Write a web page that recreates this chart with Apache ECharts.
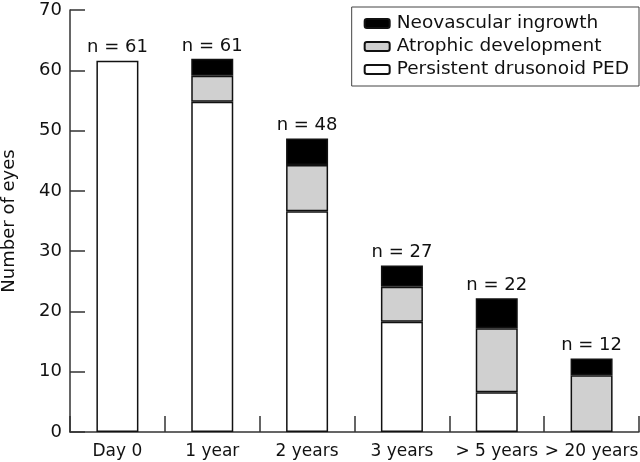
<!DOCTYPE html>
<html><head><meta charset="utf-8">
<script src="https://cdn.jsdelivr.net/npm/echarts@6/dist/echarts.min.js"></script>
<style>html,body{margin:0;padding:0;background:#fff}#c{width:640px;height:462px}</style>
</head><body><div id="c"></div>
<script>
var categories = ['Day 0', '1 year', '2 years', '3 years', '> 5 years', '> 20 years'];
var persistent = [61.6, 54.8, 36.6, 18.3, 6.6, 0];
var atrophic = [0, 4.3, 7.7, 5.8, 10.6, 9.4];
var neovascular = [0, 2.8, 4.4, 3.5, 5.0, 2.8];
var nLabels = ['n = 61', 'n = 61', 'n = 48', 'n = 27', 'n = 22', 'n = 12'];
var yTicks = [0, 10, 20, 30, 40, 50, 60, 70];

var FONT = 'DejaVu Sans';
function skipZero(arr) { return arr.map(function (v) { return v === 0 ? null : v; }); }
var totals = categories.map(function (c, i) { return persistent[i] + atrophic[i] + neovascular[i]; });

var chart = echarts.init(document.getElementById('c'), null, {renderer: 'canvas'});
var border = {borderColor: '#111', borderWidth: 1.5};
chart.setOption({
  animation: false,
  backgroundColor: '#fff',
  textStyle: {fontFamily: FONT, color: '#111'},
  grid: {left: 70, right: 1, top: 10, bottom: 30, containLabel: false, outerBoundsMode: 'none'},
  legend: {
    orient: 'vertical', right: 1, top: 7,
    itemWidth: 25, itemHeight: 9, itemGap: 4,
    padding: [7, 10, 7, 12],
    borderColor: '#444', borderWidth: 1,
    textStyle: {fontFamily: FONT, fontSize: 18.5, color: '#111', padding: [0, 0, 0, 2]},
    data: ['Neovascular ingrowth', 'Atrophic development', 'Persistent drusonoid PED']
  },
  xAxis: {
    type: 'category', data: categories,
    axisLine: {lineStyle: {color: '#333', width: 1.5}},
    axisTick: {show: true, inside: true, length: 16, alignWithLabel: false, lineStyle: {color: '#333', width: 1.5}},
    axisLabel: {interval: 0, fontSize: 17, color: '#111', margin: 11, fontFamily: FONT}
  },
  yAxis: {
    type: 'value', min: yTicks[0], max: yTicks[yTicks.length - 1], interval: 10,
    name: 'Number of eyes', nameLocation: 'middle', nameGap: 52,
    nameTextStyle: {fontSize: 18, color: '#111', fontFamily: FONT},
    splitLine: {show: false},
    axisLine: {show: true, lineStyle: {color: '#333', width: 1.5}},
    axisTick: {show: true, inside: true, length: 15, lineStyle: {color: '#333', width: 1.5}},
    axisLabel: {fontSize: 18, color: '#111', margin: 8, fontFamily: FONT}
  },
  series: [
    {name: 'Persistent drusonoid PED', type: 'bar', stack: 's', barWidth: 42,
     data: skipZero(persistent), itemStyle: Object.assign({color: '#fff'}, border)},
    {name: 'Atrophic development', type: 'bar', stack: 's',
     data: skipZero(atrophic), itemStyle: Object.assign({color: '#d0d0d0'}, border)},
    {name: 'Neovascular ingrowth', type: 'bar', stack: 's',
     data: skipZero(neovascular), itemStyle: Object.assign({color: '#000'}, border)},
    {name: 'n', type: 'scatter', data: totals, symbolSize: 0, silent: true,
     itemStyle: {opacity: 1},
     label: {show: true, position: 'top', distance: 4, fontSize: 18, color: '#111', opacity: 1, fontFamily: FONT,
       formatter: function (p) { return nLabels[p.dataIndex]; }}}
  ]
});
</script></body></html>
